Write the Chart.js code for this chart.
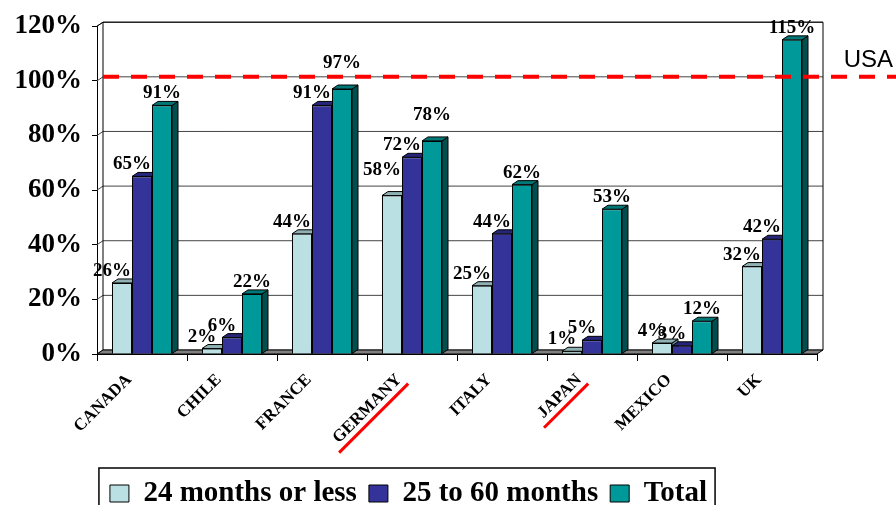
<!DOCTYPE html>
<html lang="en">
<head>
<meta charset="UTF-8">
<title>Months of coverage by country</title>
<script src="https://cdn.jsdelivr.net/npm/chart.js"></script>
<style>
  html, body { margin: 0; padding: 0; background: #fff; }
  #wrap { width: 896px; height: 505px; }
</style>
</head>
<body>
<div id="wrap"><canvas id="chart"></canvas></div>
<script>
// data
const countries = ['CANADA', 'CHILE', 'FRANCE', 'GERMANY', 'ITALY', 'JAPAN', 'MEXICO', 'UK'];
const upTo24 = [26, 2, 44, 58, 25, 1, 4, 32];
const from25to60 = [65, 6, 91, 72, 44, 5, 3, 42];
const total = [91, 22, 97, 78, 62, 53, 12, 115];
const seriesNames = ['24 months or less', '25 to 60 months', 'Total'];
const yTicks = [0, 20, 40, 60, 80, 100, 120];
const usaLevel = 100;
const usaLabel = 'USA';
const underlined = ['GERMANY', 'JAPAN'];

// look
const serif = '"Liberation Serif", "Times New Roman", serif';
const frontColors = ['#bbe0e3', '#333399', '#009999'];
const topColors = ['#8fb1b4', '#25257a', '#007777'];
const sideColors = ['#6f9294', '#1c1c5c', '#004f4f'];
const DX = 6, DY = -4;            // fake depth of the 3d look
const X_TICK = 7, X_PAD = 9, X_LABEL_OFFSET = -13, X_FONT = 17;
const labelShift = [-10, -10, 0];  // value labels sit a bit left on the first two series
const liftedLabels = [[2, 2], [0, 3], [2, 3]]; // [series, category] labels pushed up

function poly(ctx, pts, fill) {
    ctx.beginPath();
    ctx.moveTo(pts[0][0], pts[0][1]);
    for (let i = 1; i < pts.length; i++) ctx.lineTo(pts[i][0], pts[i][1]);
    ctx.closePath();
    ctx.fillStyle = fill;
    ctx.fill();
    ctx.stroke();
}

const box3d = {
    id: 'box3d',
    beforeDatasetsDraw(chart) {
        const {ctx, chartArea: a, scales: {y}} = chart;
        ctx.save();
        ctx.lineWidth = 1;
        // grid on the back and left walls
        ctx.strokeStyle = '#444';
        yTicks.forEach(v => {
            const py = y.getPixelForValue(v);
            ctx.beginPath();
            ctx.moveTo(a.left, py);
            ctx.lineTo(a.left + DX, py + DY);
            ctx.lineTo(a.right + DX, py + DY);
            ctx.stroke();
        });
        ctx.strokeStyle = '#000';
        ctx.beginPath();
        ctx.moveTo(a.left, a.top);
        ctx.lineTo(a.left + DX, a.top + DY);
        ctx.lineTo(a.right + DX, a.top + DY);
        ctx.lineTo(a.right + DX, a.bottom + DY);
        ctx.moveTo(a.left + DX, a.top + DY);
        ctx.lineTo(a.left + DX, a.bottom + DY);
        ctx.stroke();
        // floor
        poly(ctx, [[a.left, a.bottom], [a.right, a.bottom], [a.right + DX, a.bottom + DY], [a.left + DX, a.bottom + DY]], '#808080');
        // tops and sides of the bars, fronts are drawn by chart.js on top
        chart.data.datasets.forEach((ds, di) => {
            chart.getDatasetMeta(di).data.forEach(bar => {
                const l = bar.x - bar.width / 2, r = bar.x + bar.width / 2, t = bar.y, b = bar.base;
                poly(ctx, [[r, t], [r + DX, t + DY], [r + DX, b + DY], [r, b]], sideColors[di]);
                poly(ctx, [[l, t], [r, t], [r + DX, t + DY], [l + DX, t + DY]], topColors[di]);
            });
        });
        ctx.restore();
    },
    afterDatasetsDraw(chart) {
        const {ctx, chartArea: a, scales: {y}} = chart;
        ctx.save();
        // USA reference line
        const uy = y.getPixelForValue(usaLevel) + DY;
        ctx.strokeStyle = '#ff0000';
        ctx.lineWidth = 4;
        ctx.setLineDash([16, 12]);
        ctx.beginPath();
        ctx.moveTo(a.left + DX, uy);
        ctx.lineTo(chart.width, uy);
        ctx.stroke();
        ctx.setLineDash([]);
        ctx.fillStyle = '#000';
        ctx.font = '24px "Liberation Sans", Arial, sans-serif';
        ctx.textAlign = 'right';
        ctx.textBaseline = 'alphabetic';
        ctx.fillText(usaLabel, chart.width - 3, uy - 10);
        // value labels
        ctx.font = 'bold 19px ' + serif;
        ctx.textAlign = 'center';
        chart.data.datasets.forEach((ds, di) => {
            chart.getDatasetMeta(di).data.forEach((bar, i) => {
                const lift = liftedLabels.some(([s, c]) => s === di && c === i) ? 14 : 0;
                ctx.fillText(ds.data[i] + '%', bar.x + labelShift[di], bar.y - 7 - lift);
            });
        });
        ctx.restore();
    },
    afterDraw(chart) {
        const {ctx} = chart;
        ctx.save();
        // frame round the legend
        const lg = chart.legend;
        const hb = lg.legendHitBoxes;
        const last = hb[hb.length - 1];
        const left = hb[0].left - 11, right = last.left + last.width + 8;
        ctx.strokeStyle = '#000';
        ctx.lineWidth = 1.5;
        ctx.strokeRect(left, lg.top + 1, right - left, chart.height);
        // red strokes under some country names
        const x = chart.scales.x;
        ctx.font = 'bold ' + X_FONT + 'px ' + serif;
        const lh = X_FONT * 1.2, c = Math.SQRT1_2;
        ctx.strokeStyle = '#ff0000';
        ctx.lineWidth = 3;
        underlined.forEach(name => {
            const i = countries.indexOf(name);
            const w = ctx.measureText(name).width;
            const endX = x.getPixelForTick(i) + X_LABEL_OFFSET;
            const endY = x.top + X_TICK + X_PAD + c * lh / 2;
            const ox = endX + c * 11, oy = endY + c * 11;
            ctx.beginPath();
            ctx.moveTo(ox - c * (w + 6), oy + c * (w + 6));
            ctx.lineTo(ox + c * 2, oy - c * 2);
            ctx.stroke();
        });
        ctx.restore();
    }
};

new Chart(document.getElementById('chart'), {
    type: 'bar',
    data: {
        labels: countries,
        datasets: [upTo24, from25to60, total].map((d, i) => ({
            label: seriesNames[i],
            data: d,
            backgroundColor: frontColors[i],
            borderColor: '#000',
            borderWidth: 1,
            categoryPercentage: 0.667,
            barPercentage: 1
        }))
    },
    options: {
        responsive: true,
        maintainAspectRatio: false,
        animation: false,
        layout: { padding: { top: 20, right: 79, bottom: -13, left: 0 } },
        scales: {
            x: {
                grid: { drawOnChartArea: false, offset: true, tickLength: X_TICK, color: '#000' },
                border: { color: '#000' },
                ticks: {
                    autoSkip: false, minRotation: 45, maxRotation: 45,
                    padding: X_PAD, labelOffset: X_LABEL_OFFSET, color: '#000',
                    font: { family: serif, size: X_FONT, weight: 'bold' }
                },
                afterFit: s => { s.height = 113; }
            },
            y: {
                min: 0, max: 120,
                afterBuildTicks: s => { s.ticks = yTicks.map(v => ({ value: v })); },
                grid: { drawOnChartArea: false, tickLength: 5, color: '#000' },
                border: { color: '#000' },
                ticks: {
                    padding: 10, color: '#000',
                    font: { family: serif, size: 27, weight: 'bold' },
                    callback: v => v + '%'
                },
                afterFit: s => { s.width = 97; }
            }
        },
        plugins: {
            tooltip: { enabled: false },
            legend: {
                position: 'bottom',
                labels: {
                    color: '#000', boxWidth: 19, boxHeight: 17, padding: 12,
                    font: { family: serif, size: 29, weight: 'bold' }
                }
            }
        }
    },
    plugins: [box3d]
});
</script>
</body>
</html>
